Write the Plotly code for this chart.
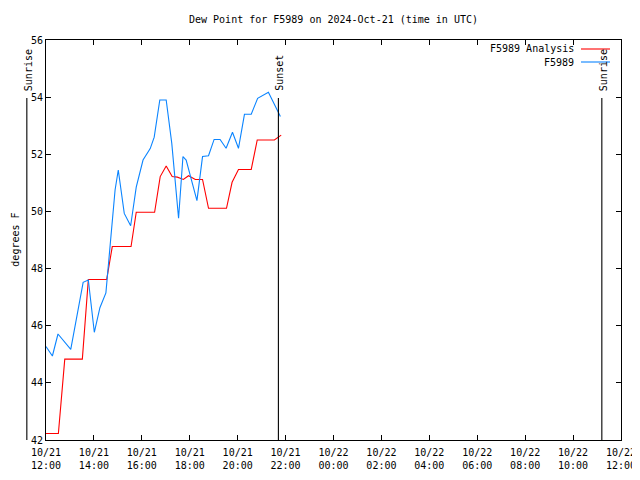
import pandas as pd
import plotly.graph_objects as go

# ---- data ----
analysis_times = ["12:00","12:31","12:47","13:31","13:46","14:32","14:46","15:33","15:46",
                  "16:32","16:46","17:01","17:16","17:29","17:44","17:57","18:14","18:32",
                  "18:47","19:32","19:46","20:02","20:34","20:49","21:32","21:49"]
analysis_vals = [42.23,42.23,44.83,44.83,47.62,47.62,48.77,48.77,49.97,49.97,51.22,51.59,
                 51.22,51.20,51.12,51.25,51.12,51.12,50.11,50.11,51.02,51.47,51.47,52.50,
                 52.50,52.67]

obs_times = ["12:00","12:16","12:30","13:02","13:33","13:46","14:01","14:15","14:30","14:45",
             "14:53","15:01","15:16","15:32","15:46","16:03","16:21","16:31","16:45","17:01",
             "17:15","17:32","17:43","17:51","18:18","18:32","18:47","19:01","19:16","19:31",
             "19:47","20:02","20:17","20:34","20:50","21:17","21:47"]
obs_vals = [45.27,44.94,45.71,45.17,47.52,47.60,45.77,46.63,47.15,49.70,50.75,51.45,49.93,
            49.50,50.85,51.80,52.20,52.60,53.90,53.90,52.38,49.76,51.92,51.80,50.38,51.92,
            51.95,52.52,52.52,52.21,52.77,52.21,53.40,53.40,53.96,54.17,53.32]

day = "2024-10-21"
x_start = pd.Timestamp("2024-10-21 12:00")
x_end = pd.Timestamp("2024-10-22 12:00")
tick_times = pd.date_range(x_start, x_end, freq="2h")
tick_labels = [t.strftime("%m/%d") + "<br>" + t.strftime("%H:%M") for t in tick_times]
y_ticks = [42, 44, 46, 48, 50, 52, 54, 56]

sun_events = [("Sunrise", "2024-10-21 11:12"), ("Sunset", "2024-10-21 21:42"),
              ("Sunrise", "2024-10-22 11:12")]

FONT = "DejaVu Sans Mono"
RED = "#ff0000"
BLUE = "#0a84ff"

a_x = pd.to_datetime([day + " " + t for t in analysis_times])
o_x = pd.to_datetime([day + " " + t for t in obs_times])

fig = go.Figure()
fig.add_trace(go.Scatter(x=a_x, y=analysis_vals, mode="lines", name="F5989 Analysis",
                         line=dict(color=RED, width=1.1)))
fig.add_trace(go.Scatter(x=o_x, y=obs_vals, mode="lines", name="F5989",
                         line=dict(color=BLUE, width=1.1)))

span = (x_end - x_start).total_seconds()
line_top = 0.855
for label, t in sun_events:
    f = (pd.Timestamp(t) - x_start).total_seconds() / span
    fig.add_shape(type="line", xref="paper", yref="paper", x0=f, x1=f, y0=0, y1=line_top,
                  line=dict(color="black", width=1.1))
    fig.add_annotation(xref="paper", yref="paper", x=f + 0.002, y=line_top + 0.012,
                       text=label, textangle=-90, showarrow=False,
                       xanchor="center", yanchor="bottom",
                       font=dict(family=FONT, size=10, color="black"))

# legend (gnuplot style: text then sample line)
leg = [("F5989 Analysis", RED, 0.9775), ("F5989", BLUE, 0.945)]
for name, col, yy in leg:
    fig.add_annotation(xref="paper", yref="paper", x=0.921, y=yy, text=name,
                       showarrow=False, xanchor="right", yanchor="middle",
                       font=dict(family=FONT, size=10, color="black"))
    fig.add_shape(type="line", xref="paper", yref="paper", x0=0.9304, x1=0.9809,
                  y0=yy, y1=yy, line=dict(color=col, width=1.1))

# y axis title
fig.add_annotation(xref="paper", yref="paper", x=-0.0545, y=0.5, text="degrees F",
                   textangle=-90, showarrow=False, xanchor="center", yanchor="middle",
                   font=dict(family=FONT, size=10, color="black"))

# page body has an 8px margin, so the figure is 632x472 and the margins are shifted
fig.update_layout(
    width=632, height=472,
    margin=dict(l=38, r=19, t=32, b=40, autoexpand=False),
    paper_bgcolor="white", plot_bgcolor="white",
    showlegend=False,
    title=dict(text="Dew Point for F5989 on 2024-Oct-21 (time in UTC)",
               x=0.5, xref="paper", y=1 - 11 / 472, yanchor="middle",
               font=dict(family=FONT, size=10, color="black")),
    font=dict(family=FONT, size=10, color="black"),
)
fig.update_xaxes(range=[x_start, x_end], tickvals=tick_times, ticktext=tick_labels,
                 automargin=False, ticklabelstandoff=3,
                 showgrid=False, zeroline=False, showline=True, linecolor="black",
                 linewidth=1, mirror="ticks", ticks="inside", ticklen=5, tickcolor="black",
                 tickfont=dict(family=FONT, size=10, color="black"))
fig.update_yaxes(range=[42, 56], tickvals=y_ticks, showgrid=False, zeroline=False,
                 automargin=False,
                 showline=True, linecolor="black", linewidth=1, mirror="ticks",
                 ticks="inside", ticklen=5, tickcolor="black",
                 tickfont=dict(family=FONT, size=10, color="black"))

fig.write_html("out.html")
